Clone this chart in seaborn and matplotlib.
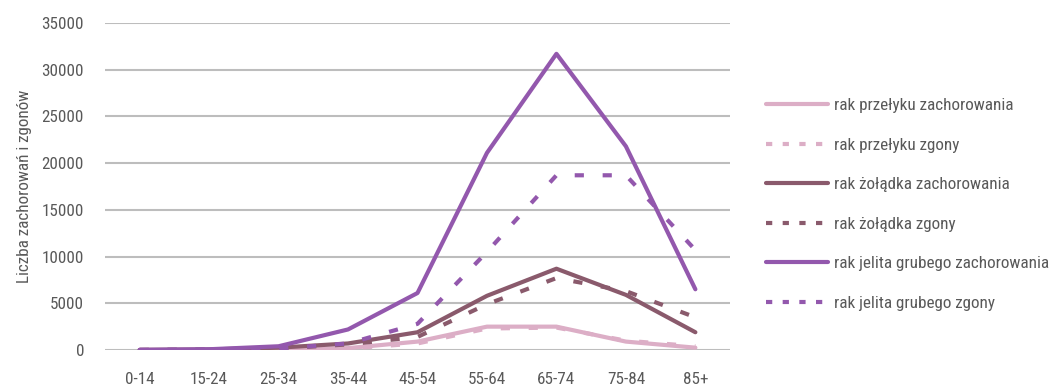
import pandas as pd
import seaborn as sns
import matplotlib.pyplot as plt

# age groups and values
ages = ["0-14", "15-24", "25-34", "35-44", "45-54", "55-64", "65-74", "75-84", "85+"]

przelyk_zach = [0, 10, 30, 200, 900, 2500, 2500, 900, 250]
przelyk_zgony = [0, 5, 20, 150, 700, 2300, 2400, 1000, 400]
zoladek_zach = [10, 60, 250, 700, 1900, 5800, 8700, 5900, 1900]
zoladek_zgony = [5, 40, 150, 600, 1400, 4900, 7700, 6300, 3500]
jelito_zach = [20, 80, 400, 2200, 6100, 21100, 31700, 21800, 6500]
jelito_zgony = [5, 30, 150, 700, 2800, 10500, 18700, 18700, 10700]

names = [
    "rak przełyku zachorowania",
    "rak przełyku zgony",
    "rak żołądka zachorowania",
    "rak żołądka zgony",
    "rak jelita grubego zachorowania",
    "rak jelita grubego zgony",
]
series = [przelyk_zach, przelyk_zgony, zoladek_zach, zoladek_zgony, jelito_zach, jelito_zgony]
colors = ["#dcaec6", "#dcaec6", "#8a5a6c", "#8a5a6c", "#9358ad", "#9358ad"]

rows = []
for name, vals in zip(names, series):
    for i, (a, v) in enumerate(zip(ages, vals)):
        rows.append({"pos": i, "wiek": a, "seria": name, "wartosc": v})
df = pd.DataFrame(rows)

sns.set_style("white")
plt.rcParams["font.family"] = ["Roboto Condensed", "DejaVu Sans"]
fs = 12.3
px = fs * 100 / 72

fig = plt.figure(figsize=(10.49, 3.87), dpi=100)
ax = fig.add_axes([0.1, 0.0956, 0.596, 0.845])

palette = dict(zip(names, colors))
dash_map = {n: ("" if "zachorowania" in n else (2.2, 4.5)) for n in names}

sns.lineplot(
    data=df, x="pos", y="wartosc", hue="seria", style="seria",
    palette=palette, dashes=dash_map, hue_order=names, style_order=names,
    linewidth=3, ax=ax, legend=False,
)

ax.set_xlim(-0.5, len(ages) - 0.5)
ax.set_ylim(0, 35000)
ax.set_yticks(range(0, 35001, 5000))
ax.set_xticks(range(len(ages)))
ax.set_xticklabels(ages)
ax.yaxis.grid(True, color="#bdbdbd", linewidth=1.5)
ax.set_axisbelow(True)
for s in ax.spines.values():
    s.set_visible(False)
ax.tick_params(axis="both", length=0, labelsize=fs, colors="#595959")
ax.tick_params(axis="x", pad=16)
ax.tick_params(axis="y", pad=15)
ax.set_xlabel("")
ax.set_ylabel("Liczba zachorowań i zgonów", fontsize=fs, color="#595959", labelpad=7)

# legend
handles = []
for n, c in zip(names, colors):
    ls = "-" if "zachorowania" in n else (0, (1.5, 2.5))
    h, = ax.plot([], [], color=c, linewidth=3, linestyle=ls, solid_capstyle="round")
    handles.append(h)
fig.legend(
    handles, names, loc="center left", bbox_to_anchor=(0.716, 0.472),
    frameon=False, fontsize=fs, handlelength=62 / px, handletextpad=0.3,
    labelspacing=(41.6 - px) / px, labelcolor="#595959",
)

plt.savefig("out.png", dpi=100)
